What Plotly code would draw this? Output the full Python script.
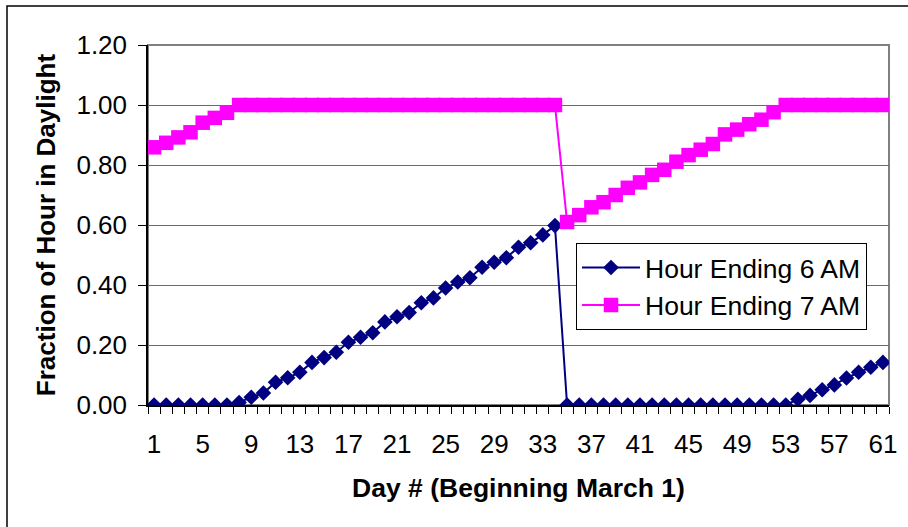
import plotly.graph_objects as go

# Day numbers (day 1 = March 1)
days = list(range(1, 62))

# Fraction of the hour that is in daylight, hour ending 6 AM
hour6 = ([0.0] * 7 +
         [0.008, 0.026, 0.040, 0.076, 0.091, 0.109, 0.142, 0.158, 0.176,
          0.209, 0.226, 0.241, 0.277, 0.294, 0.308, 0.341, 0.357, 0.390,
          0.410, 0.424, 0.459, 0.476, 0.491, 0.526, 0.541, 0.567, 0.598] +
         [0.0] * 19 +
         [0.019, 0.032, 0.051, 0.067, 0.090, 0.109, 0.126, 0.142])

# Fraction of the hour that is in daylight, hour ending 7 AM
hour7 = ([0.859, 0.874, 0.892, 0.909, 0.941, 0.957, 0.974] +
         [1.0] * 27 +
         [0.610, 0.633, 0.659, 0.676, 0.700, 0.724, 0.742, 0.767, 0.784,
          0.811, 0.833, 0.851, 0.870, 0.902, 0.918, 0.936, 0.951, 0.976] +
         [1.0] * 9)

x_tick_days = list(range(1, 62, 4))
y_ticks = [0.0, 0.2, 0.4, 0.6, 0.8, 1.0, 1.2]

FONT = "Liberation Sans, Arial, sans-serif"
W, H = 908, 527
PL, PR, PT, PB = 148, 889, 45, 405.5   # plot-area edges in pixels


def px_to_paper(px, py):
    return (px - PL) / (PR - PL), (PB - py) / (PB - PT)


fig = go.Figure()
fig.add_trace(go.Scatter(
    x=days, y=hour6, name="Hour Ending 6 AM", mode="lines+markers",
    line=dict(color="#000080", width=2),
    marker=dict(symbol="diamond", size=12, color="#000080",
                line=dict(width=0)),
))
fig.add_trace(go.Scatter(
    x=days, y=hour7, name="Hour Ending 7 AM", mode="lines+markers",
    line=dict(color="#FF00FF", width=2),
    marker=dict(symbol="square", size=14.5, color="#FF00FF",
                line=dict(width=0)),
))

# outer chart frame and plot-area frame
fx0, fy0 = px_to_paper(7, 6)
fx1, fy1 = px_to_paper(930, 545)
fig.add_shape(type="rect", xref="paper", yref="paper",
              x0=fx0, y0=fy1, x1=fx1, y1=fy0,
              line=dict(color="black", width=1.5), layer="below")
fig.add_shape(type="rect", xref="paper", yref="paper",
              x0=0, y0=0, x1=1, y1=1,
              line=dict(color="#808080", width=2), layer="below")

lx, ly = px_to_paper(576, 243)

fig.update_layout(
    width=W, height=H,
    margin=dict(l=PL, r=W - PR, t=PT, b=H - PB),
    paper_bgcolor="white", plot_bgcolor="white",
    font=dict(family=FONT, size=26, color="black"),
    showlegend=True,
    legend=dict(x=lx, y=ly, xanchor="left", yanchor="top",
                bgcolor="white", bordercolor="black", borderwidth=1,
                font=dict(size=26.5), itemwidth=58, tracegroupgap=0),
    xaxis=dict(
        range=[0.5, 61.5], tickmode="array", tickvals=x_tick_days,
        ticktext=[str(d) for d in x_tick_days], ticks="",
        showgrid=False, zeroline=False,
        showline=True, linecolor="black", linewidth=1.5,
        ticklabelstandoff=15,
        minor=dict(ticks="outside", ticklen=7, tickwidth=1,
                   tickcolor="black", tick0=0.5, dtick=1, showgrid=False),
        title=dict(text="<b>Day # (Beginning March 1)</b>", standoff=20,
                   font=dict(size=26.5)),
    ),
    yaxis=dict(
        range=[0, 1.2], tickmode="array", tickvals=y_ticks,
        tickformat=".2f", ticks="outside", ticklen=8, tickwidth=1,
        tickcolor="black", showgrid=True, gridcolor="#6a6a6a",
        gridwidth=1, zeroline=False,
        showline=True, linecolor="black", linewidth=1.5,
        ticklabelstandoff=6,
        title=dict(text="<b>Fraction of Hour in Daylight</b>", standoff=13,
                   font=dict(size=26)),
    ),
)

fig.write_html("out.html")
